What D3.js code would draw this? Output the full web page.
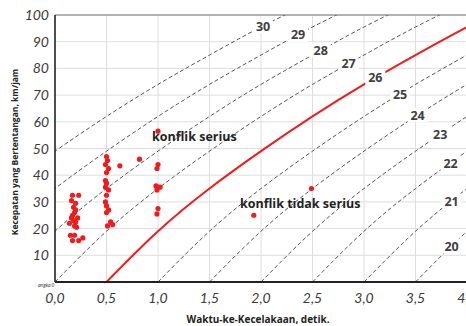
<!DOCTYPE html>
<html>
<head>
<meta charset="utf-8">
<script src="https://cdn.jsdelivr.net/npm/d3@7"></script>
<style>
  body { margin: 0; background: #fff; }
</style>
</head>
<body>
<svg id="chart"></svg>
<script>
// Axis ticks
const tTicks = [0, 0.5, 1, 1.5, 2, 2.5, 3, 3.5, 4];
const tTickLabels = ["0,0", "0,5", "1,0", "1,5", "2,0", "2,5", "3,0", "3,5", "4,0"];
const vTicks = [10, 20, 30, 40, 50, 60, 70, 80, 90, 100];

// Base severity curve (the red one, "26")
const curveT = [0.5, 1.0, 1.5, 2.0, 2.5, 3.0, 3.5, 4.0, 4.5];
const curveV = [0, 19, 35, 49, 62, 74, 85, 95.5, 105];

// The other curves are the same shape shifted along the time axis
const curveNames = [20, 21, 22, 23, 24, 25, 26, 27, 28, 29, 30];
const curveShift = [3.0, 2.5, 2.0, 1.5, 1.0, 0.5, 0, -0.5, -1.0, -1.5, -2.0];
const labelT = [3.85, 3.85, 3.84, 3.74, 3.52, 3.35, 3.11, 2.85, 2.58, 2.36, 2.02];
const redCurve = 26;

// Observed conflicts [time, speed]
const conflicts = [
  [0.17, 32.5], [0.23, 32.5], [0.16, 30.5], [0.2, 29.5], [0.18, 28], [0.2, 27],
  [0.19, 26], [0.17, 25], [0.22, 24], [0.16, 24], [0.18, 23], [0.14, 22],
  [0.2, 22.5], [0.19, 21], [0.21, 20.5], [0.15, 17.5], [0.19, 17.5], [0.27, 16.5],
  [0.23, 15.5], [0.17, 15.5],
  [0.5, 47], [0.51, 45.5], [0.49, 44], [0.52, 42.5], [0.5, 41], [0.49, 38],
  [0.5, 37], [0.49, 35.5], [0.52, 34.5], [0.5, 32.5], [0.49, 30], [0.5, 28.5],
  [0.52, 27], [0.5, 26], [0.54, 22.5], [0.51, 21], [0.56, 21.5],
  [0.63, 43.5], [0.82, 46],
  [1.0, 56.5], [1.0, 44], [0.99, 42.5], [0.98, 36], [1.0, 35.5], [1.02, 35.5],
  [0.99, 34.5], [1.0, 27.5], [0.99, 25.5],
  [1.93, 25], [2.49, 35]
];

const width = 466;
const height = 326;

const svg = d3.select("#chart")
  .attr("width", width)
  .attr("height", height);

const x = d3.scaleLinear().domain([0, 4]).range([55, 467]);
const y = d3.scaleLinear().domain([0, 100]).range([282, 15]);

svg.append("clipPath")
  .attr("id", "plot-clip")
  .append("rect")
  .attr("x", x(0))
  .attr("y", y(100))
  .attr("width", x(4) - x(0))
  .attr("height", y(0) - y(100));

// Grid
svg.append("g")
  .selectAll("line")
  .data(tTicks.filter(d => d > 0))
  .enter()
  .append("line")
  .attr("x1", d => x(d)).attr("x2", d => x(d))
  .attr("y1", y(0)).attr("y2", y(100))
  .attr("stroke", "#dedede")
  .attr("stroke-width", 1);

svg.append("g")
  .selectAll("line")
  .data(vTicks)
  .enter()
  .append("line")
  .attr("x1", x(0)).attr("x2", x(4))
  .attr("y1", d => y(d)).attr("y2", d => y(d))
  .attr("stroke", "#dedede")
  .attr("stroke-width", 1);

// Curves
const baseV = d3.scaleLinear().domain(curveT).range(curveV);

const line = d3.line()
  .x(d => x(d[0]))
  .y(d => y(d[1]))
  .curve(d3.curveNatural);

const curves = svg.append("g").attr("clip-path", "url(#plot-clip)");

curveNames.forEach((name, i) => {
  const pts = curveT.map((t, j) => [t + curveShift[i], curveV[j]]);
  curves.append("path")
    .attr("d", line(pts))
    .attr("fill", "none")
    .attr("stroke", name === redCurve ? "#f21b1b" : "#555")
    .attr("stroke-width", name === redCurve ? 2 : 1)
    .attr("stroke-dasharray", name === redCurve ? null : "4,2.5");
});

// Curve labels with white boxes
const labels = svg.append("g");
curveNames.forEach((name, i) => {
  const lt = labelT[i];
  const lv = baseV(lt - curveShift[i]);
  const g = labels.append("g")
    .attr("transform", `translate(${x(lt)}, ${y(lv)})`);
  g.append("rect")
    .attr("x", -10).attr("y", -8)
    .attr("width", 20).attr("height", 15)
    .attr("fill", "#fff");
  g.append("text")
    .attr("text-anchor", "middle")
    .attr("dy", "0.36em")
    .style("font-family", "Open Sans")
    .style("font-size", "12.5px")
    .style("font-weight", "bold")
    .style("fill", "#404040")
    .text(name);
});

// Points
svg.append("g")
  .selectAll("circle")
  .data(conflicts)
  .enter()
  .append("circle")
  .attr("cx", d => x(d[0]))
  .attr("cy", d => y(d[1]))
  .attr("r", 2.6)
  .attr("fill", "#f21b1b");

// Frame
svg.append("line")
  .attr("x1", x(0)).attr("x2", width)
  .attr("y1", y(100)).attr("y2", y(100))
  .attr("stroke", "#777").attr("stroke-width", 1.2);
svg.append("line")
  .attr("x1", x(0)).attr("x2", x(0))
  .attr("y1", y(100)).attr("y2", y(0))
  .attr("stroke", "#222").attr("stroke-width", 1.6);
svg.append("line")
  .attr("x1", x(0)).attr("x2", width)
  .attr("y1", y(0)).attr("y2", y(0))
  .attr("stroke", "#222").attr("stroke-width", 2);

// Tick labels
svg.append("g")
  .selectAll("text")
  .data(tTicks)
  .enter()
  .append("text")
  .attr("x", d => x(d))
  .attr("y", 303)
  .attr("text-anchor", "middle")
  .style("font-family", "Lato")
  .style("font-style", "italic")
  .style("font-size", "14px")
  .style("fill", "#3a3a3a")
  .text((d, i) => tTickLabels[i]);

svg.append("g")
  .selectAll("text")
  .data(vTicks)
  .enter()
  .append("text")
  .attr("x", 49)
  .attr("y", d => y(d))
  .attr("dy", "0.36em")
  .attr("text-anchor", "end")
  .style("font-family", "Lato")
  .style("font-style", "italic")
  .style("font-size", "14px")
  .style("fill", "#3a3a3a")
  .text(d => d);

svg.append("text")
  .attr("x", 38)
  .attr("y", 287)
  .style("font-family", "Lato")
  .style("font-style", "italic")
  .style("font-size", "5px")
  .style("fill", "#333")
  .text("angka 0");

// Region labels
svg.append("text")
  .attr("x", 152)
  .attr("y", 141)
  .style("font-family", "Open Sans")
  .style("font-size", "12.5px")
  .style("font-weight", "bold")
  .style("fill", "#222")
  .text("konflik serius");

svg.append("text")
  .attr("x", 240)
  .attr("y", 208)
  .style("font-family", "Open Sans")
  .style("font-size", "12.5px")
  .style("font-weight", "bold")
  .style("fill", "#222")
  .text("konflik tidak serius");

// Axis titles
svg.append("text")
  .attr("x", 258)
  .attr("y", 323)
  .attr("text-anchor", "middle")
  .style("font-family", "Open Sans")
  .style("font-size", "10px")
  .style("font-weight", "bold")
  .style("fill", "#222")
  .text("Waktu-ke-Kecelakaan, detik.");

svg.append("text")
  .attr("transform", "translate(18, 152) rotate(-90)")
  .attr("text-anchor", "middle")
  .style("font-family", "Open Sans")
  .style("font-size", "8.5px")
  .style("font-weight", "bold")
  .style("fill", "#222")
  .text("Kecepatan yang Bertentangan, km/jam");
</script>
</body>
</html>
